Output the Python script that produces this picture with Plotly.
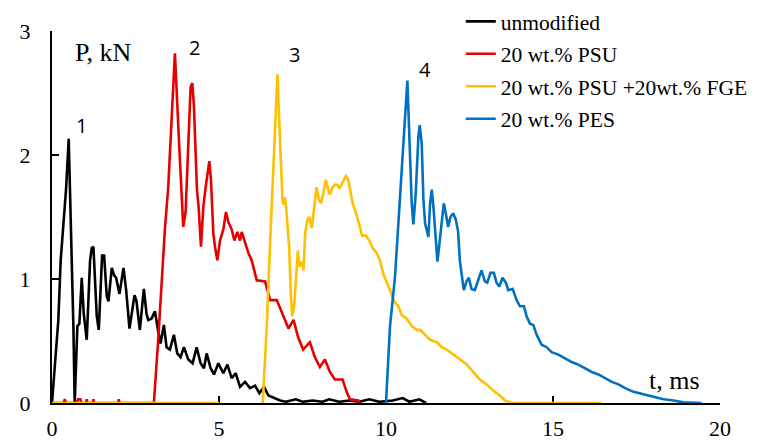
import plotly.graph_objects as go

# ---------------- data ----------------
unmod_t = [0.00, 0.19, 0.26, 0.34, 0.42, 0.50, 0.59, 0.64, 0.68, 0.76, 0.82, 0.89, 0.95, 1.04,
           1.14, 1.19, 1.24, 1.29, 1.34, 1.40, 1.50, 1.56, 1.64, 1.69, 1.79, 1.86, 1.92, 2.02,
           2.14, 2.22, 2.32, 2.47, 2.53, 2.63, 2.75, 2.83, 2.88, 2.98, 3.08, 3.18, 3.25, 3.35,
           3.43, 3.53, 3.65, 3.75, 3.85, 3.95, 4.08, 4.21, 4.33, 4.45, 4.55, 4.63, 4.75, 4.85,
           4.98, 5.13, 5.25, 5.38, 5.50, 5.63, 5.78, 5.93, 6.08, 6.21, 6.35, 6.48, 6.63, 6.83,
           7.00, 7.30, 7.50, 7.80, 8.10, 8.30, 8.60, 8.90, 9.20, 9.50, 9.80, 10.20, 10.50, 10.70,
           11.00, 11.20]
unmod_p = [0.00, 0.67, 1.15, 1.42, 1.72, 2.13, 1.21, 0.62, 0.00, 0.62, 0.64, 1.01, 0.72, 0.51,
           1.15, 1.25, 1.26, 0.94, 0.70, 0.59, 1.19, 1.19, 0.86, 0.82, 1.09, 1.03, 1.01, 0.88,
           1.09, 0.91, 0.60, 0.87, 0.82, 0.59, 0.92, 0.72, 0.67, 0.68, 0.74, 0.58, 0.48, 0.63,
           0.45, 0.43, 0.55, 0.40, 0.37, 0.45, 0.35, 0.32, 0.45, 0.32, 0.28, 0.40, 0.28, 0.23,
           0.32, 0.24, 0.31, 0.20, 0.24, 0.13, 0.17, 0.12, 0.14, 0.08, 0.13, 0.06, 0.04, 0.02,
           0.01, 0.03, 0.01, 0.02, 0.01, 0.03, 0.01, 0.02, 0.01, 0.03, 0.01, 0.02, 0.04, 0.01,
           0.03, 0.00]

psu_t = [0.00, 0.35, 0.38, 0.42, 0.75, 0.78, 0.85, 0.88, 1.02, 1.04, 1.06, 1.22, 1.24, 1.26,
         1.98, 2.00, 2.02, 3.05, 3.18, 3.38, 3.48, 3.68, 3.81, 3.93, 4.00, 4.08, 4.15, 4.20,
         4.25, 4.34, 4.39, 4.46, 4.53, 4.60, 4.71, 4.76, 4.83, 4.88, 4.95, 5.03, 5.13, 5.21,
         5.28, 5.38, 5.46, 5.55, 5.63, 5.68, 5.78, 5.88, 5.98, 6.13, 6.38, 6.53, 6.73, 6.93,
         7.08, 7.23, 7.37, 7.52, 7.72, 7.87, 8.02, 8.17, 8.32, 8.47, 8.70, 8.82, 8.92, 9.17,
         9.20]
psu_p = [0.00, 0.00, 0.03, 0.00, 0.00, 0.03, 0.03, 0.00, 0.00, 0.03, 0.00, 0.00, 0.03, 0.00,
         0.00, 0.03, 0.00, 0.00, 0.51, 1.40, 1.74, 2.82, 2.07, 1.42, 1.54, 2.12, 2.55, 2.58,
         2.39, 1.72, 1.58, 1.26, 1.58, 1.74, 1.95, 1.80, 1.37, 1.26, 1.15, 1.31, 1.40, 1.54,
         1.46, 1.40, 1.31, 1.38, 1.31, 1.38, 1.29, 1.21, 1.15, 0.99, 0.98, 0.83, 0.83, 0.70,
         0.60, 0.67, 0.53, 0.43, 0.49, 0.37, 0.29, 0.35, 0.25, 0.19, 0.19, 0.09, 0.03, 0.02,
         0.00]

fge_t = [0.00, 5.00, None, 6.31, 6.43, 6.55, 6.65, 6.75, 6.83, 6.90, 6.93, 6.97, 7.01, 7.05,
         7.10, 7.15, 7.19, 7.25, 7.30, 7.36, 7.41, 7.48, 7.53, 7.58, 7.65, 7.71, 7.78, 7.85,
         7.92, 7.99, 8.05, 8.12, 8.20, 8.27, 8.32, 8.40, 8.47, 8.54, 8.61, 8.70, 8.80, 8.87,
         8.94, 9.00, 9.07, 9.14, 9.22, 9.28, 9.40, 9.50, 9.60, 9.72, 9.82, 9.92, 10.02, 10.12,
         10.24, 10.37, 10.47, 10.62, 10.77, 10.92, 11.02, 11.17, 11.32, 11.52, 11.67, 11.82,
         12.02, 12.22, 12.42, 12.61, 12.81, 13.01, 13.21, 13.41, 13.56, 13.76, 16.46]
fge_p = [0.00, 0.00, None, 0.00, 0.62, 1.42, 2.09, 2.65, 2.09, 1.64, 1.60, 1.66, 1.58, 1.42,
         1.26, 0.88, 0.70, 0.78, 1.02, 1.23, 1.10, 1.14, 1.07, 1.37, 1.48, 1.50, 1.41, 1.56,
         1.74, 1.64, 1.61, 1.69, 1.80, 1.72, 1.68, 1.74, 1.76, 1.76, 1.73, 1.78, 1.83, 1.80,
         1.69, 1.61, 1.56, 1.50, 1.42, 1.35, 1.35, 1.31, 1.25, 1.21, 1.15, 1.04, 0.98, 0.91,
         0.82, 0.78, 0.71, 0.68, 0.62, 0.59, 0.59, 0.55, 0.51, 0.49, 0.45, 0.43,
         0.39, 0.35, 0.31, 0.25, 0.19, 0.15, 0.10, 0.06, 0.02, 0.00, 0.00]

pes_t = [10.00, 10.12, 10.27, 10.42, 10.52, 10.64, 10.72, 10.77, 10.82, 10.89, 10.97, 11.01,
         11.07, 11.12, 11.17, 11.22, 11.27, 11.32, 11.37, 11.42, 11.47, 11.54, 11.61, 11.69,
         11.73, 11.79, 11.86, 11.93, 12.01, 12.09, 12.16, 12.21, 12.26, 12.33, 12.41, 12.48,
         12.56, 12.66, 12.76, 12.86, 12.96, 13.03, 13.13, 13.23, 13.31, 13.39, 13.49, 13.59,
         13.66, 13.79, 13.91, 14.01, 14.13, 14.21, 14.31, 14.41, 14.51, 14.66, 14.81, 14.96,
         15.16, 15.36, 15.56, 15.76, 15.96, 16.16, 16.36, 16.56, 16.76, 16.96, 17.16, 17.41,
         17.71, 18.01, 18.31, 18.61, 18.90, 19.45]
pes_p = [0.00, 0.62, 1.02, 1.61, 2.09, 2.60, 1.96, 1.61, 1.44, 1.69, 2.15, 2.24,
         2.09, 1.64, 1.45, 1.40, 1.34, 1.61, 1.72, 1.58, 1.40, 1.14, 1.31, 1.53,
         1.61, 1.53, 1.42, 1.50, 1.53, 1.48, 1.38, 1.15, 1.05, 0.91, 0.98, 1.01,
         0.92, 0.91, 0.99, 1.07, 0.98, 0.97, 1.05, 1.05, 0.97, 0.94, 1.01, 0.97,
         0.91, 0.92, 0.83, 0.78, 0.78, 0.70, 0.64, 0.63, 0.55, 0.47, 0.45, 0.41,
         0.39, 0.36, 0.33, 0.31, 0.28, 0.25, 0.23, 0.20, 0.17, 0.15, 0.12, 0.09,
         0.07, 0.05, 0.03, 0.02, 0.005, 0.00]

series_names = ["unmodified", "20 wt.% PSU", "20 wt.% PSU +20wt.% FGE", "20 wt.% PES"]
series_colors = ["#000000", "#E60000", "#FFC000", "#0070C0"]

peak_labels = ["1", "2", "3", "4"]
peak_label_t = [0.87, 4.28, 7.25, 11.17]
peak_label_p = [2.24, 2.87, 2.81, 2.69]

x_ticks = [0, 5, 10, 15, 20]
y_ticks = [0, 1, 2, 3]

SERIF = "Liberation Serif"
SANS = "Open Sans"

fig = go.Figure()
data = [(unmod_t, unmod_p), (psu_t, psu_p), (fge_t, fge_p), (pes_t, pes_p)]
for i, ((t, p), name, col) in enumerate(zip(data, series_names, series_colors)):
    fig.add_trace(go.Scatter(
        x=t, y=p, mode="lines", name=name, legendgroup=f"g{i}",
        line=dict(color=col, width=2.6), connectgaps=False,
    ))

for lab, tx, py in zip(peak_labels, peak_label_t, peak_label_p):
    fig.add_annotation(x=tx, y=py, xref="x", yref="y", text=lab, showarrow=False,
                       font=dict(family=SANS, size=20, color="#000"))

fig.add_annotation(x=0.63, y=2.83, xref="x", yref="y", text="P, kN", showarrow=False,
                   xanchor="left", font=dict(family=SERIF, size=26, color="#000"))
fig.add_annotation(x=17.8, y=0.18, xref="x", yref="y", text="t, ms", showarrow=False,
                   xanchor="left", font=dict(family=SERIF, size=26, color="#000"))

fig.update_layout(
    width=769, height=451,
    margin=dict(l=44, r=57, t=23, b=56, autoexpand=False),
    paper_bgcolor="white", plot_bgcolor="white",
    font=dict(family=SERIF, size=22, color="#000"),
    legend=dict(x=0.612, y=1.081, xanchor="left", yanchor="top",
                font=dict(family=SERIF, size=21.5, color="#000"),
                bgcolor="rgba(0,0,0,0)", tracegroupgap=1.5),
    showlegend=True,
)
fig.update_xaxes(range=[0, 20], tickvals=x_ticks, showgrid=False, zeroline=False,
                 showline=True, linecolor="#000", linewidth=2, ticks="inside",
                 ticklen=7, tickwidth=2, tickcolor="#000", layer="below traces",
                 ticklabelstandoff=5,
                 tickfont=dict(family=SERIF, size=22, color="#000"))
fig.update_yaxes(range=[0, 3], tickvals=y_ticks, showgrid=False, zeroline=False,
                 showline=True, linecolor="#000", linewidth=2, ticks="inside",
                 ticklen=7, tickwidth=2, tickcolor="#000", layer="below traces",
                 ticklabelstandoff=15,
                 tickfont=dict(family=SERIF, size=22, color="#000"))

fig.write_html("out.html")
